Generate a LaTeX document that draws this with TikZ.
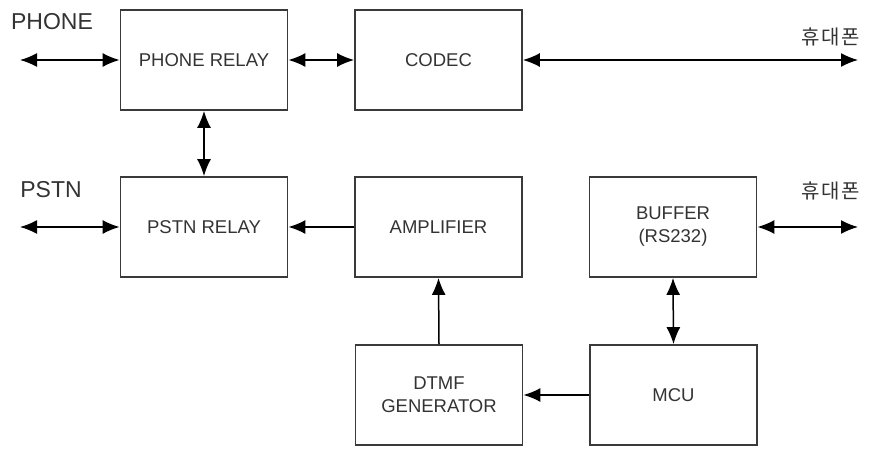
\documentclass[tikz,border=0pt]{standalone}
\usepackage{fontspec}
\setmainfont{Liberation Sans}
\newfontfamily\krfont[LetterSpace=8]{Noto Sans CJK KR}
\usetikzlibrary{arrows.meta}
\definecolor{boxline}{HTML}{3A3A3A}
\definecolor{txt}{HTML}{333333}
\begin{document}
\begin{tikzpicture}[x=1pt,y=-1pt,
  blk/.style={draw=boxline,line width=1.8pt,fill=white,minimum width=167pt,minimum height=100pt,
    align=center,text=txt,font=\fontsize{18.5}{23}\selectfont,inner sep=0pt},
  lbl/.style={text=txt,font=\fontsize{23}{27}\selectfont,inner sep=0pt},
  klbl/.style={text=txt,font=\krfont\fontsize{20}{24}\selectfont,inner sep=0pt},
  conn/.style={line width=1.5pt,draw=black},
  tip/.tip={Latex[length=17pt,width=14pt]},
  bi/.style={conn,tip-tip},
  uni/.style={conn,-tip}]
\useasboundingbox (0,0) rectangle (873,448);
\node[blk] (phr) at (204,60) {PHONE RELAY};
\node[blk] (codec) at (438.5,60) {CODEC};
\node[blk] (pst) at (204,227) {PSTN RELAY};
\node[blk] (amp) at (438.5,227) {AMPLIFIER};
\node[blk] (buf) at (673,227) {BUFFER\\(RS232)};
\node[blk] (dtmf) at (439,395) {DTMF\\GENERATOR};
\node[blk] (mcu) at (673.5,395) {MCU};
\node[lbl] (phonelbl) at (52,22) {PHONE};
\node[lbl] (pstnlbl) at (51,190) {PSTN};
\node[klbl] (kr1) at (831,37) {휴대폰};
\node[klbl] (kr2) at (831,191) {휴대폰};
\coordinate (phoneL) at (20,60);
\coordinate (pstnL) at (20,227);
\coordinate (codecR) at (858,60);
\coordinate (bufR) at (858,227);
\draw[bi] (phoneL) -- (phr.west);
\draw[bi] (pstnL) -- (pst.west);
\draw[bi] (phr.east) -- (codec.west);
\draw[bi] (codec.east) -- (codecR);
\draw[bi] (buf.east) -- (bufR);
\draw[bi] (phr.south) -- (pst.north);
\draw[bi] (buf.south) -- (mcu.north);
\draw[uni] (amp.west) -- (pst.east);
\draw[uni] (dtmf.north) -- (amp.south);
\draw[uni] (mcu.west) -- (dtmf.east);
\end{tikzpicture}
\end{document}
